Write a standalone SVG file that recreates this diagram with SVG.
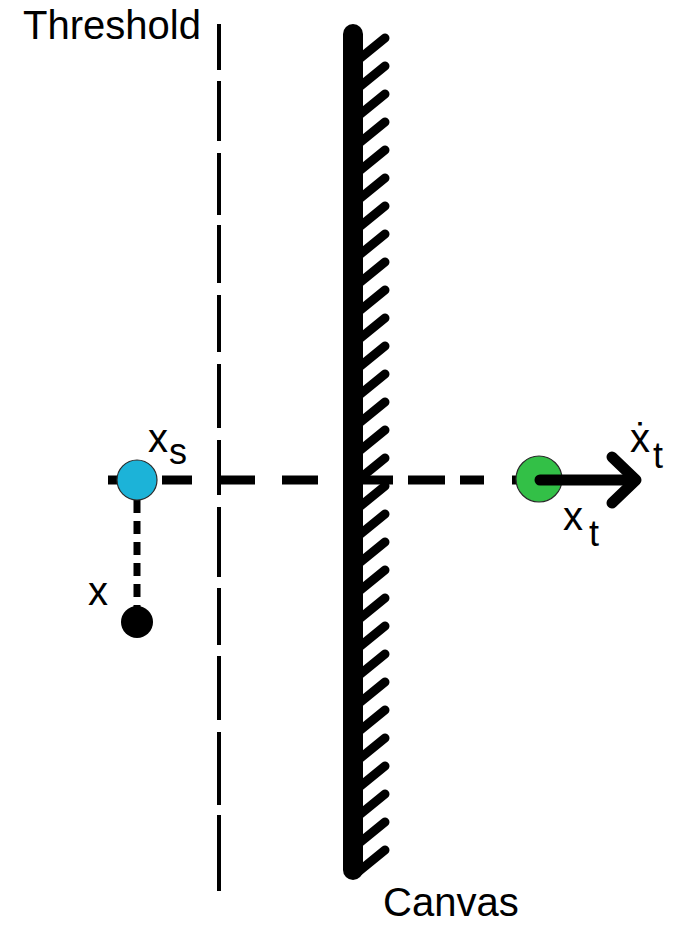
<svg xmlns="http://www.w3.org/2000/svg" width="673" height="926" viewBox="0 0 673 926">
  <style>
    .label { font-family: "Liberation Sans", Arial, sans-serif; font-size: 40px; fill: #000; }
    .sub { font-size: 36px; }
    .threshold { stroke: #000; stroke-width: 4; fill: none; }
    .ray { stroke: #000; stroke-width: 9; fill: none; }
    .drop { stroke: #000; stroke-width: 7; fill: none; stroke-dasharray: 13 8; }
    .wall { stroke: #000; stroke-width: 20; stroke-linecap: round; fill: none; }
    .hatch { stroke: #000; stroke-width: 9; stroke-linecap: round; fill: none; }
    .arrow { stroke: #000; stroke-width: 11; stroke-linecap: round; stroke-linejoin: round; fill: none; }
  </style>
  <defs>
    <line id="hatch" class="hatch" x1="358" y1="27" x2="385" y2="5"/>
  </defs>
  <rect width="673" height="926" fill="#fff"/>

  <!-- threshold: long-dash vertical line -->
  <g id="threshold">
    <path class="threshold" d="M219 24V70 M219 81V141 M219 153V215 M219 225V283 M219 295V352 M219 364V428 M219 440V495 M219 507V577 M219 588V645 M219 656V720 M219 732V805 M219 815V891"/>
    <text class="label" x="23" y="39">Threshold</text>
  </g>

  <!-- canvas: thick wall with hatching -->
  <g id="canvas">
    <line class="wall" x1="353" y1="34" x2="353" y2="870"/>
    <g id="hatching">
      <use href="#hatch" y="33"/><use href="#hatch" y="61"/><use href="#hatch" y="89"/>
      <use href="#hatch" y="117"/><use href="#hatch" y="145"/><use href="#hatch" y="173"/>
      <use href="#hatch" y="201"/><use href="#hatch" y="229"/><use href="#hatch" y="257"/>
      <use href="#hatch" y="285"/><use href="#hatch" y="313"/><use href="#hatch" y="341"/>
      <use href="#hatch" y="369"/><use href="#hatch" y="397"/><use href="#hatch" y="425"/>
      <use href="#hatch" y="453"/><use href="#hatch" y="481"/><use href="#hatch" y="509"/>
      <use href="#hatch" y="537"/><use href="#hatch" y="565"/><use href="#hatch" y="593"/>
      <use href="#hatch" y="621"/><use href="#hatch" y="649"/><use href="#hatch" y="677"/>
      <use href="#hatch" y="705"/><use href="#hatch" y="733"/><use href="#hatch" y="761"/>
      <use href="#hatch" y="789"/><use href="#hatch" y="817"/><use href="#hatch" y="845"/>
    </g>
    <text class="label" x="383" y="916">Canvas</text>
  </g>

  <!-- connectors -->
  <g id="connectors">
    <path class="ray" d="M108 480H135 M162 480H192 M218 480H255 M282 480H318 M363 480H393 M408 480H445 M460 480H484 M512 480H535"/>
    <line class="drop" x1="137" y1="500" x2="137" y2="612"/>
    <path class="arrow" d="M612 457L636 480L612 503"/>
  </g>

  <!-- source point x_s -->
  <g id="xs">
    <circle cx="137" cy="480" r="20" fill="#1cb3d8" stroke="#2a2a2a" stroke-width="1.2"/>
    <text class="label" x="148" y="452">x<tspan class="sub" x="169" y="464">s</tspan></text>
  </g>

  <!-- point x -->
  <g id="x">
    <circle cx="137" cy="622" r="16" fill="#000"/>
    <text class="label" x="88" y="605">x</text>
  </g>

  <!-- target point x_t with velocity -->
  <g id="xt">
    <circle cx="539" cy="479" r="23" fill="#33c047" stroke="#2a2a2a" stroke-width="1.2"/>
    <path class="arrow" d="M540 480H632"/>
    <text class="label" x="563" y="530">x<tspan class="sub" x="589" y="546">t</tspan></text>
    <text class="label" x="630" y="452">ẋ<tspan class="sub" x="653" y="468">t</tspan></text>
  </g>
</svg>
